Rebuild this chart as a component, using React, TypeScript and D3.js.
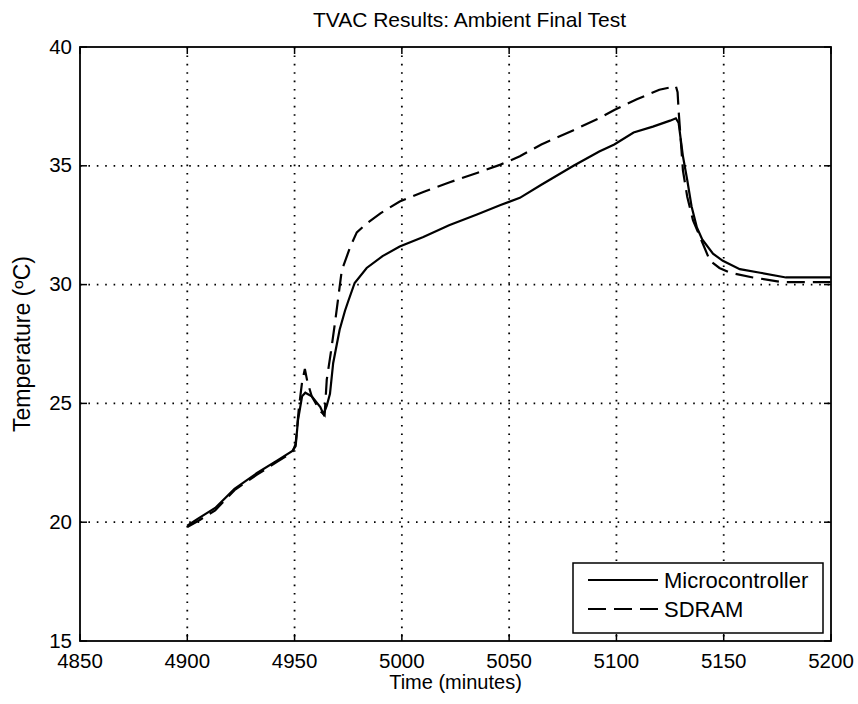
import React from 'react'
import * as d3 from 'd3'

// readings taken off the scanned figure
const micTime = [4900, 4905, 4913, 4922, 4932.5, 4942, 4949, 4950.5, 4951.6, 4953.5, 4955, 4958, 4962, 4963.5, 4965, 4966.5, 4968, 4971, 4973.5, 4975, 4978, 4983.6, 4991, 4999, 5010, 5022, 5035, 5046, 5055, 5065, 5080, 5092, 5099, 5108, 5117, 5125, 5127.7, 5129, 5131, 5133, 5135, 5137.5, 5140, 5145, 5149.6, 5157.5, 5167, 5179, 5200]
const micTemp = [19.85, 20.15, 20.6, 21.4, 22.07, 22.6, 23.0, 23.2, 24.3, 25.3, 25.45, 25.3, 24.85, 24.55, 24.9, 25.4, 26.7, 28.1, 28.9, 29.3, 30.07, 30.7, 31.2, 31.6, 32.0, 32.5, 32.95, 33.35, 33.65, 34.2, 35.0, 35.6, 35.9, 36.4, 36.65, 36.9, 37.0, 36.8, 35.4, 34.4, 33.3, 32.4, 31.9, 31.3, 31.0, 30.65, 30.5, 30.3, 30.3]

const sdramTime = [4900, 4905, 4913, 4922, 4932.5, 4942, 4949, 4950.5, 4952, 4953.5, 4954.8, 4956, 4958, 4961.8, 4964, 4965, 4967, 4969, 4972, 4976, 4979, 4984, 4990, 4999, 5010, 5022, 5035, 5046, 5055, 5065, 5080, 5092, 5099, 5109.5, 5120, 5127.7, 5128.5, 5129, 5131, 5133, 5135.7, 5139, 5143.6, 5148, 5153, 5163.6, 5177.6, 5200]
const sdramTemp = [19.8, 20.05, 20.5, 21.35, 22.0, 22.55, 22.95, 23.3, 24.8, 25.9, 26.45, 25.9, 25.3, 24.7, 24.5, 26.0, 27.2, 28.5, 30.6, 31.6, 32.2, 32.6, 33.0, 33.5, 33.9, 34.3, 34.7, 35.05, 35.4, 35.9, 36.5, 37.0, 37.35, 37.8, 38.2, 38.35, 38.1, 37.3, 34.8, 33.7, 32.7, 32.0, 31.0, 30.7, 30.5, 30.3, 30.1, 30.1]

const xTicks = [4850, 4900, 4950, 5000, 5050, 5100, 5150, 5200]
const yTicks = [15, 20, 25, 30, 35, 40]
const seriesNames = ['Microcontroller', 'SDRAM']

const W = 858
const H = 704
const left = 80, right = 831, top = 47, bottom = 641
const font = 'Liberation Sans, Arial, sans-serif'

export default function App() {
  const x = d3.scaleLinear().domain([4850, 5200]).range([left, right])
  const y = d3.scaleLinear().domain([15, 40]).range([bottom, top])

  const line = d3.line<[number, number]>()
    .x(d => x(d[0]))
    .y(d => y(d[1]))

  const micPts = micTime.map((t, i) => [t, micTemp[i]] as [number, number])
  const sdramPts = sdramTime.map((t, i) => [t, sdramTemp[i]] as [number, number])

  const tickLen = 7

  return (
    <svg width={W} height={H} style={{ position: 'absolute', left: 0, top: 0, background: '#fff' }}>
      <rect x={0} y={0} width={W} height={H} fill="#fff" />

      {/* grid */}
      {xTicks.slice(1, -1).map(t => (
        <line key={'gx' + t} x1={x(t)} x2={x(t)} y1={top} y2={bottom}
          stroke="#000" strokeWidth={1.8} strokeDasharray="1.6,6.8" />
      ))}
      {yTicks.slice(1, -1).map(t => (
        <line key={'gy' + t} x1={left} x2={right} y1={y(t)} y2={y(t)}
          stroke="#000" strokeWidth={1.8} strokeDasharray="1.6,6.8" />
      ))}

      {/* ticks, inside on all four sides */}
      {xTicks.map(t => (
        <g key={'tx' + t}>
          <line x1={x(t)} x2={x(t)} y1={bottom} y2={bottom - tickLen} stroke="#000" strokeWidth={1.5} />
          <line x1={x(t)} x2={x(t)} y1={top} y2={top + tickLen} stroke="#000" strokeWidth={1.5} />
          <text x={x(t)} y={668} textAnchor="middle" fontFamily={font} fontSize={20.5}>{t}</text>
        </g>
      ))}
      {yTicks.map(t => (
        <g key={'ty' + t}>
          <line x1={left} x2={left + tickLen} y1={y(t)} y2={y(t)} stroke="#000" strokeWidth={1.5} />
          <line x1={right} x2={right - tickLen} y1={y(t)} y2={y(t)} stroke="#000" strokeWidth={1.5} />
          <text x={72} y={y(t) + 6.5} textAnchor="end" fontFamily={font} fontSize={20.5}>{t}</text>
        </g>
      ))}

      {/* data */}
      <path d={line(micPts) || ''} fill="none" stroke="#000" strokeWidth={2.2} />
      <path d={line(sdramPts) || ''} fill="none" stroke="#000" strokeWidth={2.2} strokeDasharray="18,8" />

      {/* frame */}
      <rect x={left} y={top} width={right - left} height={bottom - top} fill="none" stroke="#000" strokeWidth={1.8} />

      {/* legend */}
      <rect x={573} y={563} width={250} height={70} fill="#fff" stroke="#000" strokeWidth={1.5} />
      <line x1={588} x2={658} y1={580} y2={580} stroke="#000" strokeWidth={2} />
      <line x1={588} x2={658} y1={609} y2={609} stroke="#000" strokeWidth={2} strokeDasharray="18,8" />
      <text x={664} y={588} fontFamily={font} fontSize={22}>{seriesNames[0]}</text>
      <text x={664} y={617} fontFamily={font} fontSize={22}>{seriesNames[1]}</text>

      {/* labels */}
      <text x={(left + right) / 2 + 14} y={27} textAnchor="middle" fontFamily={font} fontSize={21}>
        TVAC Results: Ambient Final Test
      </text>
      <text x={(left + right) / 2} y={689} textAnchor="middle" fontFamily={font} fontSize={20}>
        Time (minutes)
      </text>
      <text transform={`translate(30, ${(top + bottom) / 2}) rotate(-90)`} textAnchor="middle"
        fontFamily={font} fontSize={23}>
        Temperature (ºC)
      </text>
    </svg>
  )
}
